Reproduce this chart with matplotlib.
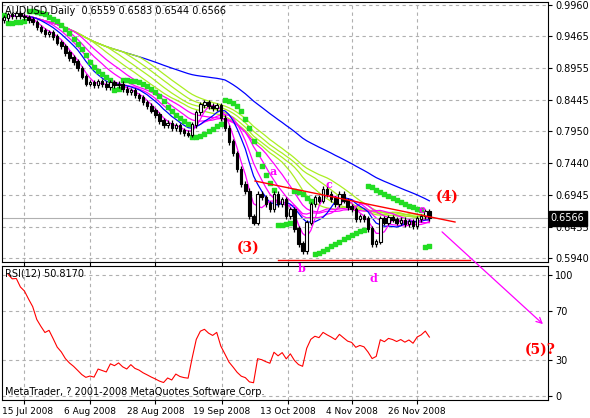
import numpy as np
import pandas as pd
import matplotlib
matplotlib.use("Agg")
import matplotlib.pyplot as plt
from matplotlib.lines import Line2D
from matplotlib.patches import FancyArrowPatch

# -------------------------
# data (daily closes, AUDUSD)
# -------------------------
closes = [0.975, 0.980, 0.978, 0.982, 0.978,
          0.976, 0.972, 0.968, 0.960, 0.955,
          0.950, 0.952, 0.945, 0.936, 0.930,
          0.920, 0.912, 0.905, 0.895, 0.882,
          0.871, 0.872, 0.868, 0.874, 0.870,
          0.866, 0.872, 0.868, 0.870, 0.862,
          0.857, 0.860, 0.852, 0.848, 0.841,
          0.835, 0.828, 0.821, 0.812, 0.805,
          0.808, 0.800, 0.804, 0.796, 0.792,
          0.790, 0.805, 0.825, 0.837, 0.840,
          0.835, 0.832, 0.836, 0.816, 0.800,
          0.778, 0.760, 0.735, 0.711, 0.700,
          0.660, 0.650, 0.695, 0.690, 0.680,
          0.672, 0.695, 0.680, 0.687, 0.660,
          0.671, 0.640, 0.616, 0.605, 0.650,
          0.679, 0.690, 0.685, 0.703, 0.695,
          0.688, 0.680, 0.695, 0.685, 0.675,
          0.671, 0.656, 0.660, 0.656, 0.640,
          0.616, 0.620, 0.656, 0.650, 0.658,
          0.655, 0.650, 0.654, 0.648, 0.652,
          0.645, 0.656, 0.660, 0.667, 0.6566]
first_open = 0.972
wick = 0.0045

price_ticks = [0.9960, 0.9465, 0.8955, 0.8445, 0.7950, 0.7440, 0.6945, 0.6435, 0.5940]
date_labels = ["15 Jul 2008", "6 Aug 2008", "28 Aug 2008", "19 Sep 2008",
               "13 Oct 2008", "4 Nov 2008", "26 Nov 2008"]
date_idx = [5, 21, 37, 53.3, 69.4, 85, 101]

W, H = 590, 418
def fx(x): return x / W
def fy(y): return 1 - y / H

c = pd.Series(closes)
o = c.shift(1).fillna(first_open)
hi = np.maximum(o, c) + wick
lo = np.minimum(o, c) - wick
n = len(c)
idx = np.arange(n)

# parabolic SAR
def psar(h, l, step=0.02, mx=0.2):
    sar = np.zeros(len(h)); up = False; af = step; ep = l[0]; sar[0] = h[0]
    for i in range(1, len(h)):
        sar[i] = sar[i-1] + af * (ep - sar[i-1])
        if up:
            if l[i] < sar[i]:
                up = False; sar[i] = ep; ep = l[i]; af = step
            elif h[i] > ep:
                ep = h[i]; af = min(af + step, mx)
        else:
            if h[i] > sar[i]:
                up = True; sar[i] = ep; ep = h[i]; af = step
            elif l[i] < ep:
                ep = l[i]; af = min(af + step, mx)
    return sar
sar = psar(hi.values, lo.values)

# RSI(12)
d = c.diff()
gain = d.clip(lower=0).ewm(alpha=1/12, adjust=False).mean()
loss = (-d.clip(upper=0)).ewm(alpha=1/12, adjust=False).mean()
rsi = 100 - 100 / (1 + gain / loss)

fig = plt.figure(figsize=(W/100, H/100), dpi=100)
ax = fig.add_axes([fx(2), fy(262), fx(546), (262-2)/H])
ax2 = fig.add_axes([fx(2), fy(400), fx(546), (400-266)/H])

for a in (ax, ax2):
    a.set_xlim(-0.5, 133)
    a.yaxis.tick_right()
    a.tick_params(labelsize=7, length=3, pad=2)
    a.grid(True, color="#b0b0b0", ls=(0, (3, 3)), lw=0.8)
    a.set_xticks(date_idx)

ax.set_xticklabels([])
ax2.set_xticklabels([""] + date_labels[1:], fontsize=6.5)
ax2.text(0.0, -0.055, date_labels[0], transform=ax2.transAxes, fontsize=6.5,
         ha="left", va="top")

# moving averages
mas = [(55, "blue"), (34, "#aaee22"), (30, "#aaee22"), (26, "#aaee22"), (22, "#aaee22"),
       (18, "magenta"), (14, "magenta"), (10, "magenta"), (8, "blue"), (4, "magenta")]
for p, col in mas:
    ax.plot(idx, c.rolling(p, min_periods=1).mean(), color=col, lw=0.9)

ax.scatter(idx, sar, s=6, marker="s", color="#22dd22", zorder=3)

for i in idx:
    ax.vlines(i, lo[i], hi[i], color="black", lw=0.9, zorder=4)
    bull = c[i] >= o[i]
    ax.bar(i, abs(c[i] - o[i]) + 0.001, bottom=min(c[i], o[i]), width=0.6,
           color="white" if bull else "black", edgecolor="black", lw=0.8, zorder=5)

ax.set_ylim(0.5875, 1.0005)
ax.set_yticks(price_ticks)
ax.set_yticklabels([f"{v:.4f}" for v in price_ticks])
ax.axhline(closes[-1], color="#b0b0b0", lw=0.8)
ax.text(1.005, closes[-1], f"{closes[-1]:.4f}", transform=ax.get_yaxis_transform(),
        fontsize=7, color="white", va="center", ha="left",
        bbox=dict(facecolor="black", edgecolor="black", pad=1.5))
ax.text(0.005, 0.985, "AUDUSD,Daily  0.6559 0.6583 0.6544 0.6566", transform=ax.transAxes,
        fontsize=7, va="top")

ax2.plot(idx, rsi, color="red", lw=0.8)
ax2.set_ylim(-3, 107)
ax2.set_yticks([0, 30, 70, 100])
ax2.text(0.005, 0.98, "RSI(12) 50.8170", transform=ax2.transAxes, fontsize=7, va="top")
ax2.text(0.005, 0.02, "MetaTrader, ? 2001-2008 MetaQuotes Software Corp.",
         transform=ax2.transAxes, fontsize=7, va="bottom")

# wave annotations in figure pixel coords
fig.add_artist(Line2D([fx(255), fx(455)], [fy(181), fy(222)], color="red", lw=1))
fig.add_artist(Line2D([fx(278), fx(470)], [fy(260), fy(260)], color="red", lw=1))
fig.add_artist(FancyArrowPatch((fx(440), fy(230)), (fx(545), fy(326)), transform=fig.transFigure,
                               arrowstyle="->", mutation_scale=10, color="magenta", lw=0.9))
for x, y, t, col in [(248, 248, "(3)", "red"), (447, 197, "(4)", "red"), (540, 350, "(5)?", "red"),
                     (273, 172, "a", "magenta"), (302, 268, "b", "magenta"),
                     (329, 185, "c", "magenta"), (373, 279, "d", "magenta"),
                     (422, 210, "e", "magenta")]:
    fig.text(fx(x), fy(y), t, color=col, fontsize=10 if col == "red" else 8,
             fontweight="bold", family="DejaVu Serif", ha="center", va="center")

plt.savefig("out.png", dpi=100)
